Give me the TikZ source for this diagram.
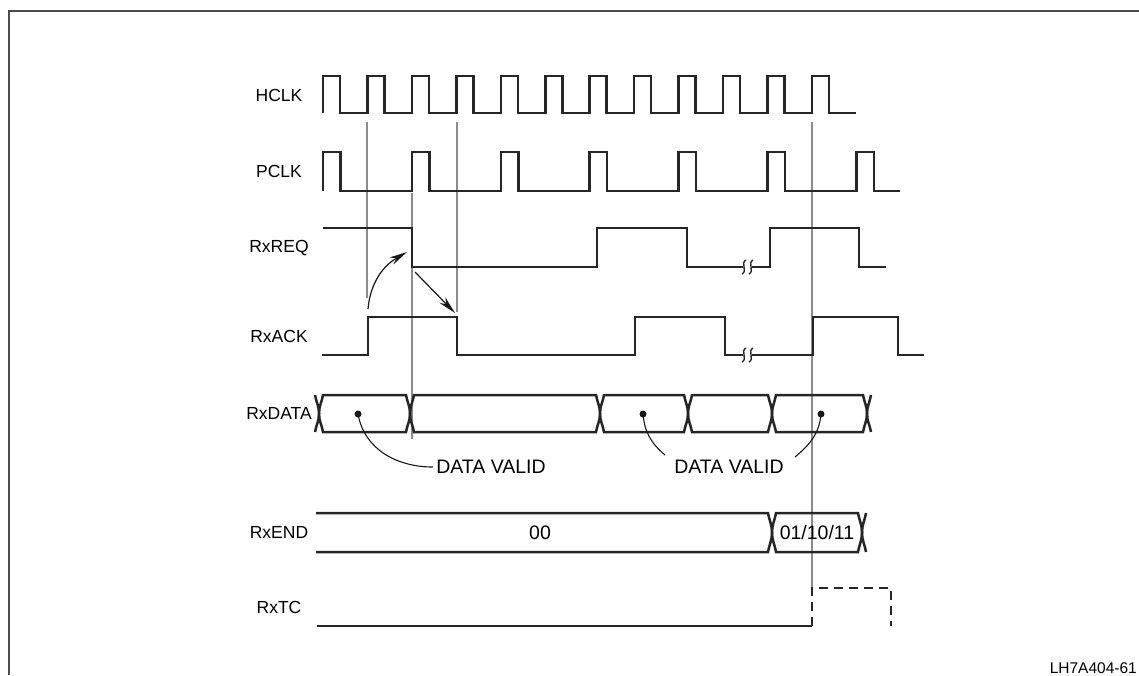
\documentclass[tikz,border=0pt]{standalone}
\usepackage{fontspec}
\setmainfont{Liberation Sans}
\usetikzlibrary{arrows.meta}
\tikzset{
  sig/.style={line width=2.5pt,black!85,line join=miter},
  guide/.style={line width=1.1pt,black!45},
  arr/.style={line width=1.2pt,black!90,-{Stealth[length=18pt,width=8pt]}},
  lead/.style={line width=1.1pt,black!90},
  brk/.style={line width=1.4pt,black!85},
  lbl/.style={font=\fontsize{17.5}{21}\selectfont},
  bustxt/.style={font=\fontsize{19.5}{22}\selectfont},
}

\begin{document}
\begin{tikzpicture}[x=1pt,y=-1pt]
\useasboundingbox (0,0) rectangle (1139,675);
% page frame
\draw[line width=1.3pt,black!70] (9,675) -- (9,11) -- (1139,11);
% signal names
\foreach \n/\t/\y in {hclk/HCLK/95,pclk/PCLK/171,req/RxREQ/248,ack/RxACK/336,data/RxDATA/413,rend/RxEND/532,tc/RxTC/607}
  {\node[lbl] (l\n) at (279,\y) {\t};}
% thin guides
\draw[guide] (367,122) -- (367,298);
\draw[guide] (457,122) -- (457,312);
\draw[guide] (412,193) -- (412,439);
\draw[guide] (812,122) -- (812,587);
% clocks
\draw[sig] (323,113) \foreach \i in {0,...,11} { -- ({323+44.45*\i},113) -- ({323+44.45*\i},76) -- ({340+44.45*\i},76) -- ({340+44.45*\i},113) } -- (856,113);
\draw[sig] (323,191) \foreach \i in {0,...,6} { -- ({323+88.9*\i},191) -- ({323+88.9*\i},152) -- ({340.5+88.9*\i},152) -- ({340.5+88.9*\i},191) } -- (900,191);
% handshake
\draw[sig] (323,228) -- (412,228) -- (412,267) -- (597,267) -- (597,228) -- (687,228) -- (687,267) -- (743,267);
\draw[sig] (752,267) -- (770,267) -- (770,228) -- (859,228) -- (859,267) -- (886,267);
\draw[sig] (322,355) -- (368,355) -- (368,317) -- (457,317) -- (457,355) -- (635,355) -- (635,317) -- (725,317) -- (725,355) -- (743,355);
\draw[sig] (752,355) -- (813,355) -- (813,317) -- (898,317) -- (898,355) -- (924,355);
\foreach \x/\y in {744/267,751/267,744/355,751/355}
  {\draw[brk] ({\x+2},{\y-7}) .. controls ({\x-4},{\y-4}) and ({\x+4},{\y+4}) .. ({\x-2},{\y+7});}
% data bus
\draw[sig] (315,395) to[out=-80,in=90] (319,413.5) to[out=-90,in=80] (315,432);
\foreach \a/\b in {319/410,410/600,600/688,688/772,772/867}
  {\draw[sig] ({\a+4},395) -- ({\b-4},395) to[out=-80,in=90] (\b,413.5) to[out=-90,in=80] ({\b-4},432) -- ({\a+4},432) to[out=100,in=-90] (\a,413.5) to[out=90,in=-100] ({\a+4},395) -- cycle;}
\draw[sig] (871,395) to[out=-100,in=90] (867,413.5) to[out=-90,in=100] (871,432);
\foreach \n/\x in {a/358,b/643,c/821}
  {\fill[black!90] (\x,414) circle (3.5pt); \coordinate (dot\n) at (\x,414);}
\node[bustxt] (valid1) at (491,467) {DATA VALID};
\node[bustxt] (valid2) at (729,467) {DATA VALID};
\coordinate (v2l) at (665,455);
\coordinate (v2r) at (795,457);
\draw[lead] (dota) to[out=-80,in=180] (valid1.west);
\draw[lead] (dotb) to[out=-85,in=140] (v2l);
\draw[lead] (dotc) to[out=-95,in=40] (v2r);
% request/acknowledge arrows
\coordinate (ackrise) at (368,309);
\coordinate (reqfall) at (407,252);
\coordinate (reqlow) at (415,272);
\coordinate (ackfall) at (455,313);
\draw[arr] (ackrise) to[out=85,in=210] (reqfall);
\draw[arr] (reqlow) -- (ackfall);
% end code bus
\draw[sig] (316,513) -- (768,513) to[out=-80,in=90] (772,532.5) to[out=-90,in=80] (768,552) -- (316,552);
\draw[sig] (776,513) -- (858,513) to[out=-80,in=90] (862,532.5) to[out=-90,in=80] (858,552) -- (776,552) to[out=100,in=-90] (772,532.5) to[out=90,in=-100] (776,513) -- cycle;
\draw[sig] (866,513) to[out=-100,in=90] (862,532.5) to[out=-90,in=100] (866,552);
\node[bustxt] (zero) at (540,532.5) {00};
\node[bustxt] (codes) at (817,532.5) {01/10/11};
% terminal count
\draw[sig] (317,626) -- (812,626);
\draw[sig,dash pattern=on 9pt off 6pt] (812,626) -- (812,588) -- (891,588) -- (891,626);
\node[anchor=east,inner sep=1pt,font=\fontsize{15.5}{18}\selectfont] (figid) at (1138,668) {LH7A404-61};
\end{tikzpicture}
\end{document}
